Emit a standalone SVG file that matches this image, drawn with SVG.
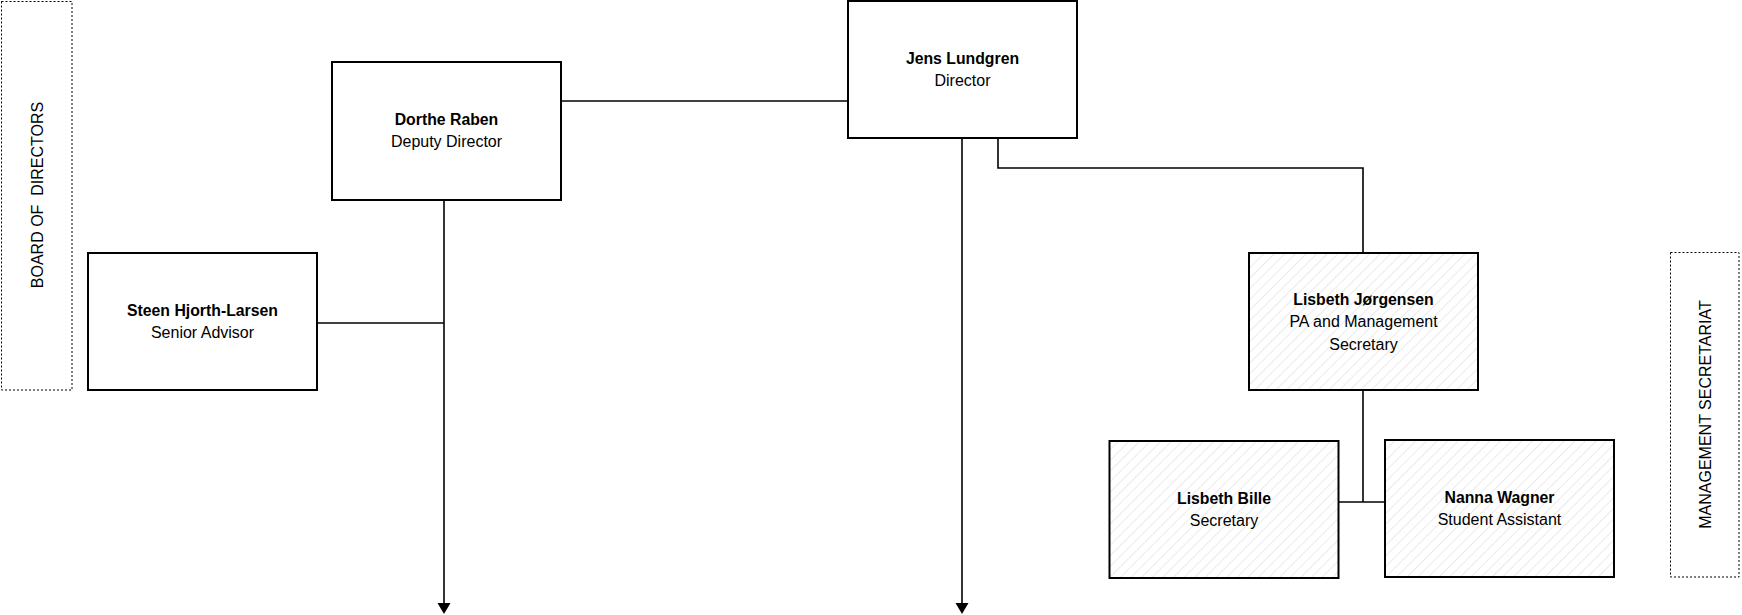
<svg xmlns="http://www.w3.org/2000/svg" width="1742" height="615" viewBox="0 0 1742 615">
<style>
.box{fill:#fff;stroke:#000;stroke-width:2}
.hbox{fill:url(#hatch);stroke:#000;stroke-width:2}
.side{fill:#fff;stroke:#000;stroke-width:1;stroke-dasharray:2 2}
.conn{fill:none;stroke:#000;stroke-width:1.6}
text{font-family:"Liberation Sans","Noto Sans",sans-serif;font-size:16px;fill:#000;text-anchor:middle}
.b{font-weight:bold;font-size:15.8px}
.v{font-size:16px}
</style>
<defs>
<pattern id="hatch" patternUnits="userSpaceOnUse" width="7.5" height="7.5" patternTransform="rotate(45)">
<rect width="7.5" height="7.5" fill="#fff"/>
<line x1="0" y1="0" x2="0" y2="7.5" stroke="#e6e6e6" stroke-width="1.6"/>
</pattern>
<marker id="arr" markerWidth="12" markerHeight="14" refX="0" refY="6.5" orient="auto" markerUnits="userSpaceOnUse">
<path d="M0,0 L11,6.5 L0,13 Z" fill="#000"/>
</marker>
</defs>
<g id="board">
<rect class="side" x="1.5" y="1.5" width="70.5" height="388.5"/>
<text class="v" xml:space="preserve" transform="translate(42.5,195) rotate(-90)">BOARD OF  DIRECTORS</text>
</g>
<g id="mgmt-secretariat">
<rect class="side" x="1670.5" y="252.5" width="68.5" height="324.5"/>
<text class="v" transform="translate(1711,414.5) rotate(-90)">MANAGEMENT SECRETARIAT</text>
</g>
<g id="connectors">
<path class="conn" d="M561,101 H848"/>
<path class="conn" d="M962,138 V603" marker-end="url(#arr)"/>
<path class="conn" d="M998,138 V168 H1363 V253"/>
<path class="conn" d="M444,200 V603" marker-end="url(#arr)"/>
<path class="conn" d="M317,323 H444"/>
<path class="conn" d="M1363,390 V502"/>
<path class="conn" d="M1338.5,502 H1385"/>
</g>
<g id="jens">
<rect class="box" x="848" y="1" width="229" height="137"/>
<text class="b" x="962.5" y="64">Jens Lundgren</text>
<text x="962.5" y="86">Director</text>
</g>
<g id="dorthe">
<rect class="box" x="332" y="62" width="229" height="138"/>
<text class="b" x="446.5" y="125">Dorthe Raben</text>
<text x="446.5" y="147">Deputy Director</text>
</g>
<g id="steen">
<rect class="box" x="88" y="253" width="229" height="137"/>
<text class="b" x="202.5" y="316">Steen Hjorth-Larsen</text>
<text x="202.5" y="338">Senior Advisor</text>
</g>
<g id="lisbeth-j">
<rect class="hbox" x="1249" y="253" width="229" height="137"/>
<text class="b" x="1363.5" y="305">Lisbeth Jørgensen</text>
<text x="1363.5" y="327">PA and Management</text>
<text x="1363.5" y="350">Secretary</text>
</g>
<g id="lisbeth-b">
<rect class="hbox" x="1109.5" y="441" width="229" height="137"/>
<text class="b" x="1224" y="504">Lisbeth Bille</text>
<text x="1224" y="526">Secretary</text>
</g>
<g id="nanna">
<rect class="hbox" x="1385" y="440" width="229" height="137"/>
<text class="b" x="1499.5" y="503">Nanna Wagner</text>
<text x="1499.5" y="525">Student Assistant</text>
</g>
</svg>
